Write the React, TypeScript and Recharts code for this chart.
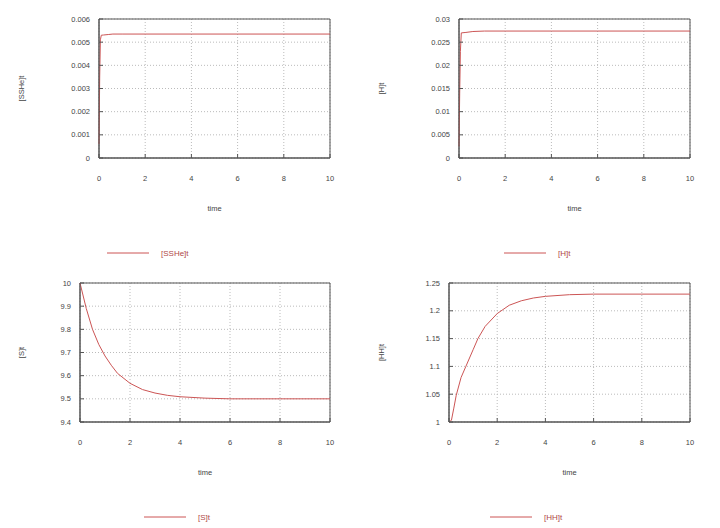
import React from 'react';
import { LineChart, Line, XAxis, YAxis, CartesianGrid, Legend, ReferenceArea } from 'recharts';

// time axis shared by all four panels
const timeTicks = [0, 2, 4, 6, 8, 10];

// [SSHe]t
const sshTimes = [0, 0.03, 0.06, 0.1, 0.2, 0.4, 0.6, 1, 2, 4, 6, 8, 10];
const sshValues = [0.0006, 0.0035, 0.0051, 0.0053, 0.00531, 0.00533, 0.00535, 0.00535, 0.00535, 0.00535, 0.00535, 0.00535, 0.00535];
const sshTicks = [0, 0.001, 0.002, 0.003, 0.004, 0.005, 0.006];

// [H]t
const hTimes = [0, 0.03, 0.06, 0.1, 0.3, 0.6, 1.1, 2, 4, 6, 8, 10];
const hValues = [0.0025, 0.014, 0.023, 0.027, 0.0271, 0.0273, 0.0274, 0.0274, 0.0274, 0.0274, 0.0274, 0.0274];
const hTicks = [0, 0.005, 0.01, 0.015, 0.02, 0.025, 0.03];

// [S]t
const sTimes = [0, 0.25, 0.5, 0.75, 1, 1.25, 1.5, 2, 2.5, 3, 3.5, 4, 5, 6, 8, 10];
const sValues = [10, 9.89, 9.8, 9.735, 9.685, 9.645, 9.61, 9.567, 9.54, 9.525, 9.515, 9.509, 9.503, 9.5, 9.5, 9.5];
const sTicks = [9.4, 9.5, 9.6, 9.7, 9.8, 9.9, 10];

// [HH]t
const hhTimes = [0, 0.1, 0.2, 0.3, 0.5, 0.7, 1, 1.2, 1.5, 2, 2.5, 3, 3.5, 4, 5, 6, 8, 10];
const hhValues = [1, 1.003, 1.025, 1.048, 1.08, 1.1, 1.13, 1.15, 1.172, 1.195, 1.21, 1.218, 1.223, 1.226, 1.229, 1.23, 1.23, 1.23];
const hhTicks = [1, 1.05, 1.1, 1.15, 1.2, 1.25];

const LINE_COLOR = '#cc5555';
const BOX_COLOR = '#555';
const TEXT_COLOR = '#444';
const FONT = '"Liberation Sans", Arial, sans-serif';

interface PanelProps {
  times: number[];
  values: number[];
  yTicks: number[];
  yLabel: string;
  name: string;
  plotLeft: number;
  legendLeft: number;
  left: number;
  top: number;
}

const Panel: React.FC<PanelProps> = ({ times, values, yTicks, yLabel, name, plotLeft, legendLeft, left, top }) => {
  const data = times.map((t, i) => ({ t, v: values[i] }));
  const yMin = yTicks[0];
  const yMax = yTicks[yTicks.length - 1];

  const renderLegend = () => (
    <div style={{ display: 'flex', alignItems: 'center', fontFamily: FONT, fontSize: 8, color: '#b04848', whiteSpace: 'nowrap' }}>
      <svg width={42} height={10}>
        <line x1={0} x2={42} y1={5} y2={5} stroke={LINE_COLOR} strokeWidth={1} />
      </svg>
      <span style={{ marginLeft: 12 }}>{name}</span>
    </div>
  );

  return (
    <div style={{ position: 'absolute', left, top }}>
      <LineChart width={360} height={264} data={data} margin={{ top: 19, right: 30, bottom: 76, left: 0 }}>
        <CartesianGrid stroke="#bbb" strokeDasharray="1 2" />
        <XAxis
          dataKey="t"
          type="number"
          domain={[0, 10]}
          ticks={timeTicks}
          height={30}
          tickSize={-4}
          tickMargin={22}
          stroke={BOX_COLOR}
          tick={{ fill: TEXT_COLOR, fontSize: 7.5, fontFamily: FONT }}
          label={{ value: 'time', position: 'bottom', offset: 18, fill: TEXT_COLOR, fontSize: 7.5, fontFamily: FONT }}
        />
        <XAxis
          xAxisId="mirror"
          orientation="top"
          type="number"
          domain={[0, 10]}
          allowDataOverflow
          ticks={timeTicks}
          height={0}
          tickSize={-4}
          tick={false}
          stroke={BOX_COLOR}
        />
        <YAxis
          type="number"
          domain={[yMin, yMax]}
          ticks={yTicks}
          width={plotLeft}
          tickSize={-4}
          tickMargin={13}
          stroke={BOX_COLOR}
          tick={{ fill: TEXT_COLOR, fontSize: 7.5, fontFamily: FONT }}
          label={{
            content: (props: any) => {
              const vb = props.viewBox || {};
              const cy = vb.y + vb.height / 2;
              return (
                <text x={22} y={cy} transform={`rotate(-90 22 ${cy})`} textAnchor="middle" dominantBaseline="middle" fill={TEXT_COLOR} fontSize={7.5} fontFamily={FONT}>
                  {yLabel}
                </text>
              );
            },
          }}
        />
        <YAxis
          yAxisId="mirror"
          orientation="right"
          type="number"
          domain={[yMin, yMax]}
          allowDataOverflow
          ticks={yTicks}
          width={0}
          tickSize={-4}
          tick={false}
          stroke={BOX_COLOR}
        />
        <ReferenceArea x1={0} x2={10} y1={yMin} y2={yMax} fill="none" stroke={BOX_COLOR} strokeWidth={1} ifOverflow="extendDomain" />
        <Legend
          layout="vertical"
          align="center"
          verticalAlign="middle"
          content={renderLegend}
          wrapperStyle={{ left: legendLeft, top: 248, width: 140 }}
        />
        <Line
          type="linear"
          dataKey="v"
          name={name}
          stroke={LINE_COLOR}
          strokeWidth={1}
          dot={false}
          isAnimationActive={false}
        />
      </LineChart>
    </div>
  );
};

export default function App() {
  return (
    <div style={{ position: 'absolute', left: 0, top: 0, width: 720, height: 528, background: '#fff', overflow: 'hidden' }}>
      <Panel times={sshTimes} values={sshValues} yTicks={sshTicks} yLabel="[SSHe]t" name="[SSHe]t" plotLeft={99} legendLeft={107} left={0} top={0} />
      <Panel times={hTimes} values={hValues} yTicks={hTicks} yLabel="[H]t" name="[H]t" plotLeft={99} legendLeft={144} left={360} top={0} />
      <Panel times={sTimes} values={sValues} yTicks={sTicks} yLabel="[S]t" name="[S]t" plotLeft={80} legendLeft={144} left={0} top={264} />
      <Panel times={hhTimes} values={hhValues} yTicks={hhTicks} yLabel="[HH]t" name="[HH]t" plotLeft={89} legendLeft={130} left={360} top={264} />
    </div>
  );
}
